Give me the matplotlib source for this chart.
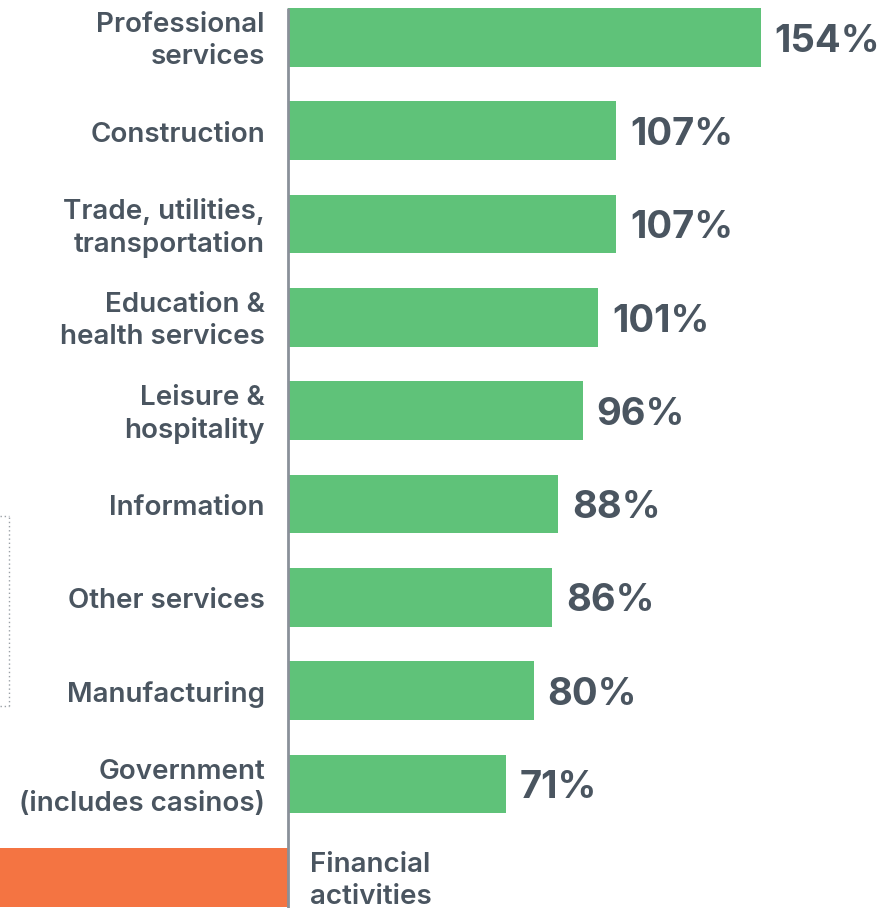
import matplotlib
matplotlib.use("Agg")
import matplotlib.pyplot as plt
from matplotlib.lines import Line2D

categories = [
    "Professional\nservices",
    "Construction",
    "Trade, utilities,\ntransportation",
    "Education &\nhealth services",
    "Leisure &\nhospitality",
    "Information",
    "Other services",
    "Manufacturing",
    "Government\n(includes casinos)",
    "Financial\nactivities",
]
values = [154, 107, 107, 101, 96, 88, 86, 80, 71, -100]
value_labels = ["154%", "107%", "107%", "101%", "96%", "88%", "86%", "80%", "71%", ""]

GREEN = "#5fc279"
ORANGE = "#f47442"
TEXT = "#4a5560"
AXIS = "#8a9099"

W, H = 882, 908
fig = plt.figure(figsize=(W / 100, H / 100), dpi=100)
ax = fig.add_axes([0, 0, 1, 1])

px_per_unit = 3.07
x0_px = 288
ax.set_xlim(-x0_px / px_per_unit, (W - x0_px) / px_per_unit)

pitch = 93.3
first_center = 37.5
ax.set_ylim((H - first_center) / pitch, -first_center / pitch)

ypos = list(range(len(categories)))
colors = [GREEN if v >= 0 else ORANGE for v in values]
ax.barh(ypos, values, height=0.63, color=colors, zorder=2)

bar_top = -0.5 * 0.63
ax.plot([0, 0], [bar_top, (H - first_center) / pitch], color=AXIS, lw=2, zorder=3,
        solid_capstyle="butt")

# small downward nudge so text sits optically centred on each bar
dy_cat = 0.04
dy_val = 0.045

label_font = dict(family=["Inter", "DejaVu Sans"], weight="semibold")
for y, cat, v, lab in zip(ypos, categories, values, value_labels):
    if v >= 0:
        ax.text(-7.5, y + dy_cat, cat, ha="right", va="center", fontsize=20, color=TEXT,
                linespacing=1.3, **label_font)
        ax.text(v + 4.5, y + dy_val, lab, ha="left", va="center", fontsize=27.5,
                color=TEXT, family=["Inter", "DejaVu Sans"], weight="bold")
    else:
        ax.text(7.2, y + dy_cat, cat, ha="left", va="center", fontsize=20, color=TEXT,
                linespacing=1.3, **label_font)

for s in ax.spines.values():
    s.set_visible(False)
ax.set_xticks([])
ax.set_yticks([])

# thin dotted bracket on the left edge
x_f = 8.5 / W
y_top = 1 - 516 / H
y_bot = 1 - 706 / H
fig.add_artist(Line2D([x_f, x_f], [y_bot, y_top], transform=fig.transFigure,
                      color="#9aa0a6", lw=1, ls=(0, (1, 2))))
for yy in (y_top, y_bot):
    fig.add_artist(Line2D([0, x_f], [yy, yy], transform=fig.transFigure,
                          color="#9aa0a6", lw=1, ls=(0, (1, 2))))

fig.savefig("out.png", dpi=100)
